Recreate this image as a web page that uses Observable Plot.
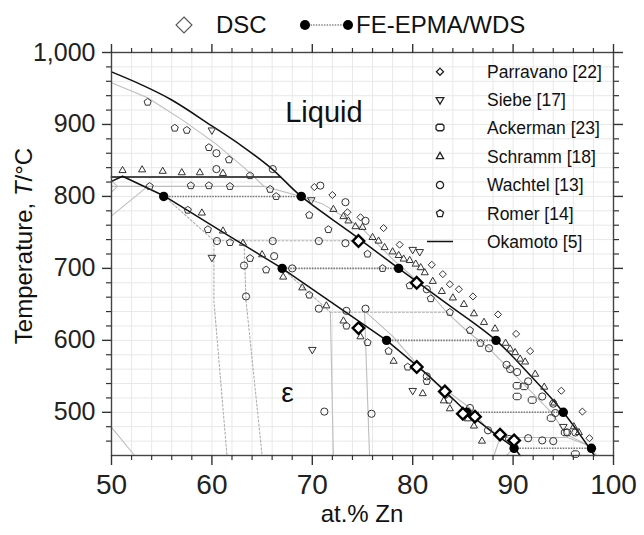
<!DOCTYPE html>
<html><head><meta charset="utf-8">
<script src="https://cdn.jsdelivr.net/npm/d3@7"></script>
<script src="https://cdn.jsdelivr.net/npm/@observablehq/plot@0.6"></script>
<style>
body{margin:0;background:#fff;}
#wrap{position:relative;width:644px;height:535px;font-family:"Liberation Sans",Arial,sans-serif;}
#chart{position:absolute;left:0;top:0;}
#over{position:absolute;left:0;top:0;pointer-events:none;}
</style></head><body>
<div id="wrap"><div id="chart"></div><svg id="over" width="644" height="535"></svg></div>
<script>
// ---------- ticks ----------
const xMajor = [50, 60, 70, 80, 90, 100];
const xMinor = [52, 54, 56, 58, 62, 64, 66, 68, 72, 74, 76, 78, 82, 84, 86, 88, 92, 94, 96, 98];
const yMajor = [500, 600, 700, 800, 900, 1000];
const yMinor = [460, 480, 520, 540, 560, 580, 620, 640, 660, 680, 720, 740, 760, 780, 820, 840, 860, 880, 920, 940, 960, 980];

// ---------- Okamoto [5] (black lines) ----------
const okaLiqX = [50, 53, 56, 60, 63, 66, 68.9, 73.8, 78.6, 83.5, 88.3, 91.8, 95.0, 98.1];
const okaLiqY = [973, 955, 934, 898, 870, 838, 800, 750, 700, 650, 600, 550, 500, 440];
const okaPeriX = [50, 66.8];
const okaPeriY = [827, 827];
const okaEpsX = [50, 51.1, 55.2, 61.0, 67.0, 72.2, 77.4, 81.5, 85.4, 88.2, 90.1, 90.7];
const okaEpsY = [821, 828, 801, 751, 700, 650, 600, 552, 500, 470, 451, 440];

// ---------- calculated boundaries (light grey solid) ----------
const calcLiqX = [50, 53.6, 57.2, 60.4, 63.2, 65.2, 68.9, 71.1, 73.1, 75.0, 78.0, 81.4, 83.4, 85.4, 87.6, 89.6, 91.7, 94.0, 95.2, 97.7, 98.3];
const calcLiqY = [958, 937, 905, 873, 840, 814, 800, 789, 772, 755, 713, 671, 639, 613, 589, 560, 530, 497, 470, 453, 440];
const calcHorX = [50, 65.2];
const calcHorY = [814, 814];
const calcBetaX = [50, 53.6];
const calcBetaY = [773, 814];
const calcCornerX = [50, 50.6, 50];
const calcCornerY = [822, 814, 806];
const calcLowX = [50, 52.3];
const calcLowY = [479, 440];
const calcV1X = [71.8, 72.1];
const calcV1Y = [639, 440];
const calcV2X = [75.2, 75.7];
const calcV2Y = [641, 440];
const calcEpsX = [75.2, 78.0, 81.4, 85.7, 87.5, 88.7];
const calcEpsY = [641, 606, 551, 506, 476, 465];
const calcZetaX = [88.7, 95.4, 97.7];
const calcZetaY = [465, 465, 453];
const calcB1X = [88.1, 88.7];
const calcB1Y = [440, 465];
const calcB2X = [89.35, 90.1];
const calcB2Y = [440, 451];

// ---------- calculated boundaries (light grey dotted) ----------
const dotAX = [55.2, 60.2];   const dotAY = [801, 738.5];
const dotBX = [60.2, 74.6];   const dotBY = [738.5, 738.5];
const dotCX = [60.2, 60.2, 61.5]; const dotCY = [738.5, 655, 440];
const dotDX = [63.2, 63.4, 65.0]; const dotDY = [738.5, 655, 440];
const dotEX = [67.0, 71.8];   const dotEY = [700, 639];
const dotFX = [71.8, 83.4];   const dotFY = [639, 639];

// ---------- FE-EPMA/WDS tie lines ----------
const tieT  = [800, 700, 600, 500, 450];
const tieX1 = [55.2, 67.0, 77.4, 85.4, 90.1];
const tieX2 = [68.9, 78.6, 88.3, 95.0, 97.8];

// ---------- DSC ----------
const dscX = [74.6, 80.4, 74.6, 80.4, 83.2, 85.0, 86.2, 88.7, 90.1];
const dscY = [738, 680, 617, 563, 529, 498, 494, 469, 461];

// ---------- literature ----------
const parX = [70.2, 72.0, 73.5, 74.8, 77.1, 78.7, 81.9, 83.0, 83.7, 84.6, 86.0, 88.5, 90.3, 91.7, 94.8, 96.9, 97.6];
const parY = [813, 802, 778, 771, 756, 733, 705, 692, 678, 671, 661, 636, 609, 585, 530, 501, 464];

const siebeX = [60.0, 60.0, 69.9, 70.0, 80.0, 80.7, 80.0, 95.0];
const siebeY = [892, 715, 795, 587, 726, 723, 530, 480];

const ackX = [90.4, 91.1, 90.4, 91.9, 93.8, 95.2, 96.2];
const ackY = [537, 536, 522, 517, 492, 472, 442];

const schX = [51.1, 53.05, 55.1, 57.0, 58.8, 61.1,
  59.0, 61.1, 63.1, 65.0, 67.1, 69.0, 71.4, 73.1, 74.8, 78.1, 81.0, 83.1, 83.7, 85.5, 86.1, 86.9,
  72.1, 73.1, 73.6, 74.3, 75.0, 76.0, 76.6, 77.2, 78.0, 78.6, 79.1, 79.7, 80.3, 80.8, 81.2, 82.0, 82.9, 84.0,
  85.1, 86.1, 87.1, 88.2, 89.25, 89.7, 90.2, 90.7, 91.2, 92.2, 93.1, 94.1, 96.05, 96.55];
const schY = [836, 837, 835, 833, 833, 832,
  777, 752, 735, 719, 688, 673, 648, 627, 605, 571, 526, 516, 505, 491, 481, 460,
  782, 772, 766, 758, 757, 743, 738, 729, 723, 718, 713, 711, 706, 701, 694, 682, 668, 659,
  650, 637, 625, 616, 596, 588, 583, 574, 570, 553, 535, 513, 480, 472];

const wachX = [60.45, 60.45, 66.06, 70.8, 73.3, 75.3, 60.5, 66.06, 70.65, 73.3, 66.2, 63.2, 63.4, 68.0,
  70.65, 73.4, 75.3, 71.2, 75.9, 81.4, 81.4, 85.7, 87.5, 89.6, 91.5, 92.9, 94.0,
  87.6, 89.35, 89.7, 90.4, 91.5, 92.9, 94.0, 94.2, 95.4, 96.2];
const wachY = [860, 838, 838, 815, 792, 766, 738, 738, 738, 735, 717, 704, 661, 700,
  644, 641, 644, 501, 498, 550, 671, 506, 475, 463, 464, 461, 460,
  589, 566, 560, 556, 543, 522, 512, 499, 472, 472];

const romX = [53.6, 56.3, 57.5, 59.7, 61.7, 63.8, 53.8, 57.9, 59.7, 61.8, 65.8, 66.4,
  57.6, 59.6, 61.8, 63.8, 65.4, 69.7, 71.6, 75.5, 77.0, 79.7, 69.7, 81.8,
  73.4, 75.5, 77.6, 79.5, 81.4, 83.6, 83.7, 85.7, 86.75];
const romY = [931, 895, 892, 868, 851, 829, 814, 815, 815, 814, 810, 800,
  781, 754, 736, 714, 698, 774, 754, 720, 700, 676, 663, 658,
  620, 597, 585, 563, 543, 517, 639, 614, 596];

// ---------- region labels ----------
const regionText = ["Liquid", "ε"];
const regionX = [67.3, 66.9];
const regionY = [916, 527];
const regionSize = [29, 28];

// ---------- helpers ----------
const pts = (xs, ys) => xs.map((x, i) => ({x, y: ys[i]}));
const R = s => Math.sqrt(s / Math.PI);
const symDown = {draw(c, s){const r = R(s) * 1.15; c.moveTo(-r, -r*0.6); c.lineTo(r, -r*0.6); c.lineTo(0, r*1.1); c.closePath();}};
const symPent = {draw(c, s){const r = R(s) * 1.1; for (let k = 0; k < 5; k++){const a = -Math.PI/2 + k*2*Math.PI/5; const px = r*Math.cos(a), py = r*Math.sin(a); if (k) c.lineTo(px, py); else c.moveTo(px, py);} c.closePath();}};
const symRect = {draw(c, s){const r = R(s); const w = r*1.1, h = r*0.9, k = r*0.45; c.moveTo(-w+k, -h); c.lineTo(w-k, -h); c.lineTo(w, -h+k); c.lineTo(w, h-k); c.lineTo(w-k, h); c.lineTo(-w+k, h); c.lineTo(-w, h-k); c.lineTo(-w, -h+k); c.closePath();}};

const greyLine = (xs, ys) => Plot.line(pts(xs, ys), {x: "x", y: "y", stroke: "#bdbdbd", strokeWidth: 1.1});
const greyDot = (xs, ys) => Plot.line(pts(xs, ys), {x: "x", y: "y", stroke: "#b0b0b0", strokeWidth: 1.1, strokeDasharray: "2,2"});
const openDots = (xs, ys, symbol, r) => Plot.dot(pts(xs, ys), {x: "x", y: "y", symbol, r, stroke: "#333", strokeWidth: 1, fill: "none"});

const ties = tieT.map((t, i) => ({t, x1: tieX1[i], x2: tieX2[i]}));
const tieEnds = ties.flatMap(d => [{x: d.x1, y: d.t}, {x: d.x2, y: d.t}]);
const regions = regionText.map((t, i) => ({t, x: regionX[i], y: regionY[i], s: regionSize[i]}));

const blank = () => "";
const chart = Plot.plot({
  width: 644, height: 535,
  marginLeft: 111, marginRight: 31, marginTop: 52, marginBottom: 80,
  style: {fontFamily: "'Liberation Sans', Arial, sans-serif", background: "white", color: "#222"},
  x: {domain: [50, 100]},
  y: {domain: [440, 1000]},
  marks: [
    Plot.gridX(xMajor.concat(xMinor), {stroke: "#e8e8e8", strokeOpacity: 1}),
    Plot.gridY(yMajor.concat(yMinor), {stroke: "#e8e8e8", strokeOpacity: 1}),
    greyLine(calcLiqX, calcLiqY), greyLine(calcHorX, calcHorY), greyLine(calcBetaX, calcBetaY),
    greyLine(calcCornerX, calcCornerY), greyLine(calcLowX, calcLowY), greyLine(calcV1X, calcV1Y),
    greyLine(calcV2X, calcV2Y), greyLine(calcEpsX, calcEpsY), greyLine(calcZetaX, calcZetaY),
    greyLine(calcB1X, calcB1Y), greyLine(calcB2X, calcB2Y),
    greyDot(dotAX, dotAY), greyDot(dotBX, dotBY), greyDot(dotCX, dotCY),
    greyDot(dotDX, dotDY), greyDot(dotEX, dotEY), greyDot(dotFX, dotFY),
    Plot.line(pts(okaPeriX, okaPeriY), {x: "x", y: "y", stroke: "#4a4a4a", strokeWidth: 2}),
    Plot.line(pts(okaLiqX, okaLiqY), {x: "x", y: "y", stroke: "#111", strokeWidth: 1.5, curve: "catmull-rom"}),
    Plot.line(pts(okaEpsX, okaEpsY), {x: "x", y: "y", stroke: "#111", strokeWidth: 1.5}),
    Plot.link(ties, {x1: "x1", x2: "x2", y1: "t", y2: "t", stroke: "#777", strokeWidth: 1.6, strokeDasharray: "1.5,1.2"}),
    openDots(parX, parY, "diamond2", 3.2),
    openDots(siebeX, siebeY, symDown, 3.3),
    openDots(ackX, ackY, symRect, 3.6),
    openDots(schX, schY, "triangle2", 3.4),
    openDots(wachX, wachY, "circle", 3.6),
    openDots(romX, romY, symPent, 3.4),
    Plot.dot(tieEnds, {x: "x", y: "y", r: 4.7, fill: "#000", stroke: "none"}),
    Plot.dot(pts(dscX, dscY), {x: "x", y: "y", symbol: "diamond2", r: 5.2, stroke: "#000", strokeWidth: 2.4, fill: "white"}),
    Plot.frame({stroke: "#444", strokeWidth: 1.4}),
    Plot.axisX(xMajor, {anchor: "bottom", tickSize: 10, tickPadding: 9, fontSize: 28, label: null, stroke: "#333", strokeWidth: 1.4}),
    Plot.axisX(xMinor, {anchor: "bottom", tickSize: 5, tickFormat: blank, label: null, stroke: "#333", strokeWidth: 1.2}),
    Plot.axisX(xMajor, {anchor: "top", tickSize: 9, tickFormat: blank, label: null, stroke: "#333", strokeWidth: 1.4}),
    Plot.axisX(xMinor, {anchor: "top", tickSize: 5, tickFormat: blank, label: null, stroke: "#333", strokeWidth: 1.2}),
    Plot.axisY(yMajor, {anchor: "left", tickSize: 9, tickPadding: 7, fontSize: 25, tickFormat: d3.format(","), label: null, stroke: "#333", strokeWidth: 1.4}),
    Plot.axisY(yMinor, {anchor: "left", tickSize: 5, tickFormat: blank, label: null, stroke: "#333", strokeWidth: 1.2}),
    Plot.axisY(yMajor, {anchor: "right", tickSize: 9, tickFormat: blank, label: null, stroke: "#333", strokeWidth: 1.4}),
    Plot.axisY(yMinor, {anchor: "right", tickSize: 5, tickFormat: blank, label: null, stroke: "#333", strokeWidth: 1.2}),
    Plot.text(regions, {x: "x", y: "y", text: "t", fontSize: "s", textAnchor: "start", fill: "#111"})
  ]
});
document.getElementById("chart").append(chart);

// ---------- overlay: legends and axis titles ----------
const svg = d3.select("#over");
const ff = "'Liberation Sans', Arial, sans-serif";
// top legend
const topG = svg.append("g");
topG.append("path").attr("d", "M184,17L192,25L184,33L176,25Z").attr("fill", "none").attr("stroke", "#555").attr("stroke-width", 1.1);
topG.append("text").attr("x", 216).attr("y", 25).attr("dy", "0.35em").attr("font-size", 24).attr("font-family", ff).attr("fill", "#111").text("DSC");
topG.append("line").attr("x1", 305).attr("x2", 348).attr("y1", 25).attr("y2", 25).attr("stroke", "#888").attr("stroke-width", 1.5).attr("stroke-dasharray", "1.5,1.2");
topG.append("circle").attr("cx", 305).attr("cy", 25).attr("r", 5).attr("fill", "#000");
topG.append("circle").attr("cx", 348).attr("cy", 25).attr("r", 5).attr("fill", "#000");
topG.append("text").attr("x", 356).attr("y", 25).attr("dy", "0.35em").attr("font-size", 24).attr("font-family", ff).attr("fill", "#111").text("FE-EPMA/WDS");

// inner legend
const legNames = ["Parravano [22]", "Siebe [17]", "Ackerman [23]", "Schramm [18]", "Wachtel [13]", "Romer [14]", "Okamoto [5]"];
const legSyms = [d3.symbolDiamond2, symDown, symRect, d3.symbolTriangle2, d3.symbolCircle, symPent, null];
const legR = [3.2, 3.3, 3.6, 3.4, 3.6, 3.4, 0];
const legY = [71.7, 100, 127.5, 156.5, 185, 213.5, 241.5];
legNames.forEach((name, i) => {
  if (legSyms[i]) {
    svg.append("path").attr("transform", `translate(440,${legY[i]})`)
      .attr("d", d3.symbol(legSyms[i], legR[i] * legR[i] * Math.PI)())
      .attr("fill", "none").attr("stroke", "#222").attr("stroke-width", 1.3);
  } else {
    svg.append("line").attr("x1", 427).attr("x2", 453).attr("y1", legY[i]).attr("y2", legY[i]).attr("stroke", "#111").attr("stroke-width", 1.5);
  }
  svg.append("text").attr("x", 487).attr("y", legY[i]).attr("dy", "0.35em").attr("font-size", 17.5).attr("font-family", ff).attr("fill", "#111").text(name);
});

// axis titles
const yt = svg.append("text").attr("transform", "translate(24,246) rotate(-90)").attr("text-anchor", "middle").attr("dy", "0.35em")
  .attr("font-size", 24).attr("font-family", ff).attr("fill", "#111");
yt.append("tspan").text("Temperature, ");
yt.append("tspan").attr("font-style", "italic").text("T");
yt.append("tspan").text("/°C");
svg.append("text").attr("x", 362).attr("y", 514).attr("dy", "0.35em").attr("text-anchor", "middle")
  .attr("font-size", 24).attr("font-family", ff).attr("fill", "#111").text("at.% Zn");
</script></body></html>
